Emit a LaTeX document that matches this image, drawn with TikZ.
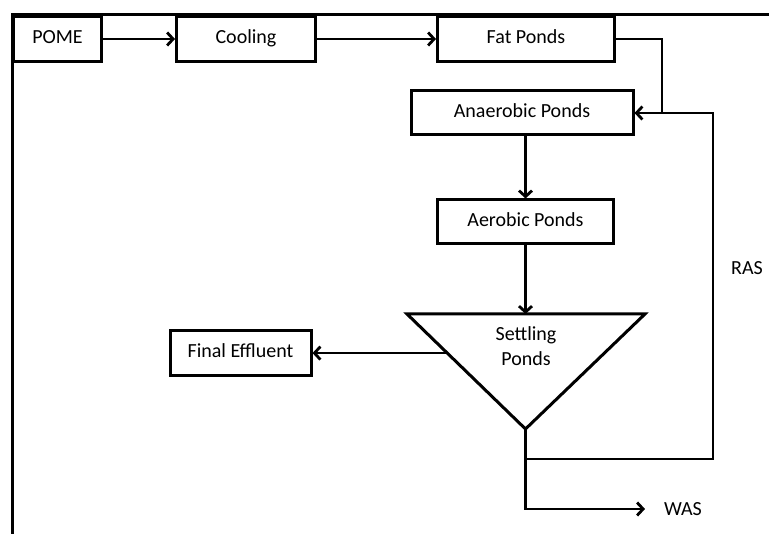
\documentclass[tikz,border=0pt]{standalone}
\usepackage{fontspec}
\setmainfont{Carlito}
\usetikzlibrary{arrows.meta, positioning, calc}
\tikzstyle{rect} = [draw, rectangle, line width=3pt, fill=white, minimum height=45pt, inner sep=0pt, text height=1.75ex, text depth=0pt]
\tikzstyle{line} = [draw, line width=2.8pt, -{Straight Barb[length=6pt,width=13pt]}]
\tikzstyle{plain} = [draw, line width=2.8pt]

\begin{document}
\begin{tikzpicture}[x=1pt, y=-1pt, font=\fontsize{20}{24}\selectfont]
	\useasboundingbox (0,0) rectangle (769,534);
	\draw [line width=3pt] (12,534) -- (12,15) -- (769,15);

	\node [rect, minimum width=88pt, anchor=north west] (pome) at (12,15) {POME};
	\node [rect, minimum width=139pt, right=72pt of pome] (cooling) {Cooling};
	\node [rect, minimum width=177pt, right=119pt of cooling] (fat) {Fat Ponds};
	\node [rect, minimum width=222pt, minimum height=44pt] (anaer) at (522,113) {Anaerobic Ponds};
	\node [rect, minimum width=176pt, minimum height=44pt] (aer) at (525.5,222) {Aerobic Ponds};
	\node [rect, minimum width=141pt] (effl) at (240.5,353) {Final Effluent};
	\node [inner xsep=19pt] (was) at (683,509) {WAS};
	\node (ras) at (747,268.5) {RAS};

	\coordinate (tl) at (407,314);
	\coordinate (tr) at (645,314);
	\coordinate (tv) at (525.5,429);
	\draw [line width=3pt, line join=miter] (tl) -- (tr) -- (tv) -- cycle;
	\node [align=center] (settle) at (526,346) {Settling\\[1pt]Ponds};

	\coordinate (settleL) at ($(tl)!0.34!(tv)$);
	\coordinate (split) at (525.5,459);
	\coordinate (rasc) at (713,459);
	\coordinate (fatc) at (662,113);

	\path [line] (pome) -- (cooling);
	\path [line] (cooling) -- (fat);
	\path [plain] (fat.east) -| (fatc);
	\path [line] (anaer.south -| aer) -- (aer.north);
	\path [line] (aer.south) -- (aer.south |- tl);
	\path [line] (settleL) -- (settleL -| effl.east);
	\path [line] (tv) |- (was.west);
	\path [line] (split) -- (rasc) |- (anaer.east);
\end{tikzpicture}
\end{document}
